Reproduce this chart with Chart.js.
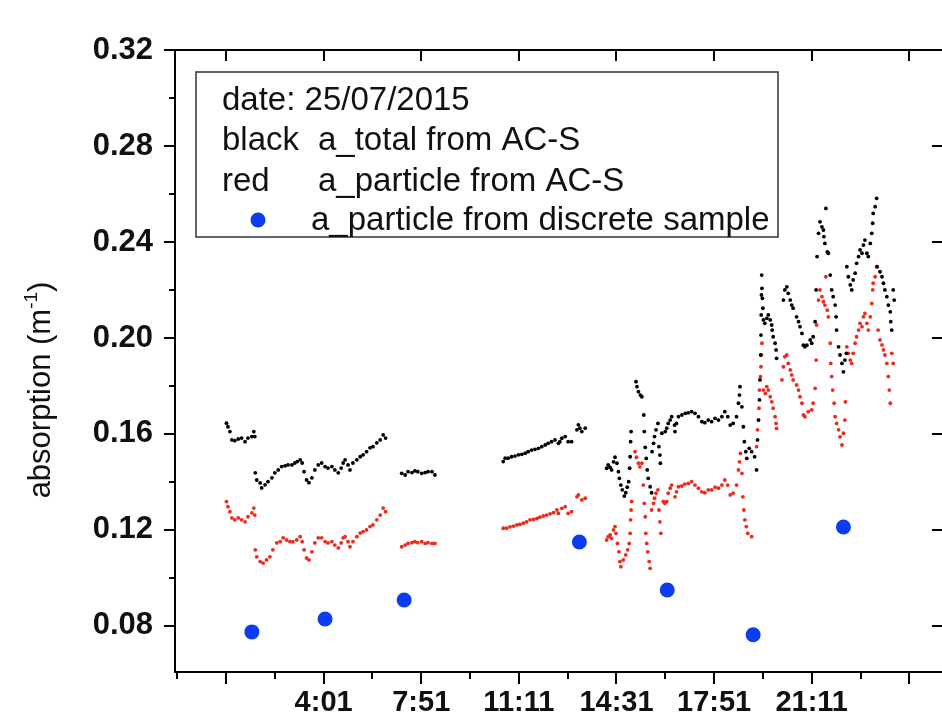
<!DOCTYPE html>
<html>
<head>
<meta charset="utf-8">
<script src="https://cdn.jsdelivr.net/npm/chart.js@4.4.0/dist/chart.umd.min.js"></script>
<style>
  html, body { margin: 0; padding: 0; background: #fff; overflow: hidden; }
  #wrap { width: 960px; height: 719px; }
</style>
</head>
<body>
<div id="wrap"><canvas id="chart"></canvas></div>
<script>
// time axis is in minutes, ticks every 200 min (labels as printed on the figure)
const xTickValues = [41, 241, 441, 641, 841, 1041, 1241, 1441];
const xTickLabels = ['', '4:01', '7:51', '11:11', '14:31', '17:51', '21:11', ''];
const xMinorValues = [-59, 141, 341, 541, 741, 941, 1141, 1341];
const yTickValues = [0.08, 0.12, 0.16, 0.20, 0.24, 0.28, 0.32];
const yMinorValues = [0.10, 0.14, 0.18, 0.22, 0.26, 0.30];

// black: a_total from AC-S
const blackTime = [
  42, 45, 49, 53, 59, 66, 73, 80, 86, 94, 98, 100,
  101, 104, 111, 114, 121, 127, 135, 141, 148, 155, 162, 168, 176, 182, 187, 193, 197, 201, 206, 211,
  217, 223, 230, 237, 244, 250, 258, 264, 271, 277, 281, 285, 291, 295, 301, 309, 316, 322, 329, 336,
  342, 350, 357, 363, 368,
  401, 408, 414, 422, 428, 434, 442, 449, 455, 463, 469,
  609, 613, 619, 626, 633, 640, 647, 654, 660, 667, 674, 681, 688, 695, 701, 708, 715, 722, 725, 729,
  736, 742, 749, 760, 763, 766, 770, 777,
  821, 824, 828, 831, 835, 838, 842, 845, 847, 850, 853, 857, 860, 863, 866, 868, 869, 870, 871,
  881, 883, 886, 890, 893, 897, 898, 900, 902, 904, 906, 910, 913, 914, 917, 919, 922, 926, 928, 930,
  931, 934, 941, 944, 947, 951, 954, 960, 961, 964, 968, 975, 982, 988, 995, 1002, 1009, 1016, 1022,
  1029, 1036, 1043, 1050, 1057, 1063, 1069, 1074, 1080, 1087, 1091, 1093, 1094, 1098, 1101, 1103,
  1106, 1108, 1113, 1118, 1124, 1128, 1130, 1132, 1134, 1135, 1136.5, 1137, 1137.5, 1138, 1138.5,
  1139, 1140, 1141, 1142, 1145, 1149, 1152, 1156, 1159, 1160, 1162, 1166, 1168, 1169,
  1183, 1186, 1190, 1193, 1197, 1200, 1203, 1210, 1214, 1217, 1221, 1224, 1227, 1231, 1238, 1241,
  1244, 1248, 1250, 1252, 1255, 1258, 1262, 1265, 1266, 1268, 1270, 1273, 1275, 1279, 1282, 1285,
  1289, 1291, 1292, 1296, 1299, 1303, 1306, 1309, 1312, 1313, 1316, 1320, 1323, 1326, 1330, 1333,
  1337, 1340, 1344, 1347, 1350, 1354, 1357, 1361, 1364, 1366, 1367, 1371, 1374, 1375, 1381, 1385,
  1388, 1391, 1395, 1398, 1402, 1403, 1405, 1408, 1410
];
const blackAbs = [
  0.1645, 0.1630, 0.1610, 0.1575, 0.1572, 0.1579, 0.1583, 0.1568, 0.1583, 0.1589, 0.1610, 0.1589,
  0.1438, 0.1408, 0.1396, 0.1375, 0.1388, 0.1401, 0.1417, 0.1438, 0.1450, 0.1464, 0.1467, 0.1471, 0.1471, 0.1479, 0.1485, 0.1492, 0.1479, 0.1443, 0.1408, 0.1397,
  0.1417, 0.1450, 0.1471, 0.1479, 0.1464, 0.1458, 0.1464, 0.1450, 0.1438, 0.1458, 0.1479, 0.1492, 0.1471, 0.1450, 0.1479, 0.1492, 0.1505, 0.1513, 0.1526, 0.1542,
  0.1547, 0.1563, 0.1575, 0.1596, 0.1583,
  0.1436, 0.1429, 0.1443, 0.1439, 0.1446, 0.1443, 0.1436, 0.1439, 0.1443, 0.1443, 0.1429,
  0.1485, 0.1499, 0.1499, 0.1505, 0.1508, 0.1513, 0.1515, 0.1520, 0.1526, 0.1533, 0.1536, 0.1540, 0.1547, 0.1554, 0.1561, 0.1568, 0.1575, 0.1561, 0.1568, 0.1582,
  0.1589, 0.1568, 0.1568, 0.1617, 0.1638, 0.1624, 0.1610, 0.1624,
  0.1457, 0.1471, 0.1461, 0.1450, 0.1484, 0.1503, 0.1478, 0.1443, 0.1415, 0.1387, 0.1367, 0.1341, 0.1355, 0.1378, 0.1401, 0.1457, 0.1505, 0.1568, 0.1610,
  0.1818, 0.1797, 0.1776, 0.1762, 0.1755, 0.1679, 0.1610, 0.1544, 0.1498, 0.1450, 0.1415, 0.1380, 0.1355, 0.1526, 0.1561, 0.1589, 0.1617, 0.1644, 0.1547, 0.1512,
  0.1478, 0.1603, 0.1610, 0.1624, 0.1644, 0.1658, 0.1672, 0.1637, 0.1610, 0.1644, 0.1672, 0.1679, 0.1686, 0.1688, 0.1693, 0.1686, 0.1672, 0.1651, 0.1647,
  0.1658, 0.1651, 0.1665, 0.1658, 0.1672, 0.1693, 0.1672, 0.1637, 0.1644, 0.1672, 0.1728, 0.1762, 0.1797, 0.1713, 0.1630, 0.1568,
  0.1526, 0.1498, 0.1540, 0.1526, 0.1505, 0.1450, 0.1575, 0.1658, 0.1742, 0.1825, 0.1929, 0.2012, 0.2096, 0.2179, 0.2262,
  0.2207, 0.2165, 0.2124, 0.2075, 0.2061, 0.2082, 0.2096, 0.2075, 0.2054, 0.2033, 0.2005, 0.1978, 0.1950, 0.1915,
  0.2158, 0.2200, 0.2213, 0.2186, 0.2158, 0.2137, 0.2124, 0.2088, 0.2068, 0.2047, 0.2019, 0.1970, 0.1963, 0.1970, 0.1992, 0.1978,
  0.2005, 0.2068, 0.2200, 0.2339, 0.2436, 0.2484, 0.2463, 0.2450, 0.2422, 0.2394, 0.2540, 0.2359, 0.2353, 0.2262, 0.2200, 0.2172,
  0.2137, 0.2088, 0.2033, 0.1963, 0.1929, 0.1894, 0.1859, 0.1908, 0.1936, 0.2297, 0.2255, 0.2221, 0.2200, 0.2242, 0.2270, 0.2311,
  0.2339, 0.2367, 0.2353, 0.2387, 0.2408, 0.2353, 0.2339, 0.2394, 0.2436, 0.2478, 0.2519, 0.2547, 0.2582, 0.2297, 0.2276, 0.2255,
  0.2228, 0.2200, 0.2172, 0.2137, 0.2109, 0.2068, 0.2033, 0.2200, 0.2158
];

// red: a_particle from AC-S
const redTime = [
  42, 45, 49, 53, 59, 66, 73, 80, 86, 94, 98, 100,
  101, 104, 111, 117, 124, 131, 137, 145, 152, 158, 165, 172, 178, 186, 193, 197, 201, 206, 211, 217,
  223, 230, 237, 244, 250, 258, 264, 271, 277, 281, 285, 291, 295, 301, 309, 316, 322, 329, 336, 342,
  350, 357, 363, 368,
  401, 408, 414, 422, 428, 434, 442, 449, 455, 463, 469,
  609, 616, 623, 630, 637, 643, 650, 657, 664, 671, 678, 684, 691, 698, 705, 712, 719, 722, 729, 736,
  742, 749, 760, 763, 770, 777,
  821, 824, 828, 831, 835, 838, 840, 843, 846, 848, 850, 855, 860, 864, 867, 869, 870, 871, 872,
  879, 882, 886, 889, 893, 896, 898, 900, 901, 903, 905, 908, 910, 913, 917, 919, 922, 926, 928, 930,
  932, 937, 940, 944, 947, 951, 954, 961, 964, 968, 975, 981, 988, 995, 1002, 1009, 1016, 1022, 1029,
  1036, 1043, 1050, 1057, 1063, 1069, 1074, 1080, 1087, 1091, 1093, 1095, 1098, 1100, 1102, 1104,
  1107, 1110, 1118, 1128, 1130, 1132, 1133, 1134, 1136, 1137, 1138, 1139, 1142, 1146, 1149, 1152,
  1156, 1159, 1162, 1166, 1168, 1169, 1180, 1183, 1186, 1190, 1193, 1197, 1200, 1203, 1210, 1214,
  1217, 1221, 1224, 1227, 1234, 1241, 1244, 1248, 1250, 1251, 1255, 1258, 1262, 1265, 1268, 1270,
  1273, 1275, 1279, 1280, 1282, 1284, 1287, 1289, 1292, 1296, 1299, 1303, 1306, 1309, 1310, 1313,
  1316, 1320, 1323, 1326, 1330, 1333, 1337, 1340, 1344, 1347, 1350, 1354, 1357, 1361, 1364, 1366,
  1367, 1371, 1374, 1377, 1381, 1385, 1388, 1391, 1395, 1398, 1400, 1402, 1405, 1408
];
const redAbs = [
  0.1318, 0.1297, 0.1276, 0.1250, 0.1242, 0.1250, 0.1242, 0.1234, 0.1255, 0.1271, 0.1291, 0.1262,
  0.1117, 0.1088, 0.1068, 0.1062, 0.1075, 0.1088, 0.1117, 0.1146, 0.1151, 0.1167, 0.1158, 0.1151, 0.1151, 0.1158, 0.1172, 0.1151, 0.1117, 0.1083, 0.1075, 0.1109,
  0.1146, 0.1167, 0.1167, 0.1151, 0.1146, 0.1151, 0.1137, 0.1125, 0.1146, 0.1167, 0.1172, 0.1151, 0.1130, 0.1151, 0.1172, 0.1187, 0.1193, 0.1200, 0.1214, 0.1221,
  0.1242, 0.1262, 0.1291, 0.1276,
  0.1130, 0.1137, 0.1144, 0.1147, 0.1151, 0.1147, 0.1151, 0.1144, 0.1147, 0.1144, 0.1144,
  0.1207, 0.1207, 0.1213, 0.1216, 0.1221, 0.1223, 0.1228, 0.1234, 0.1242, 0.1244, 0.1248, 0.1253, 0.1258, 0.1262, 0.1267, 0.1272, 0.1283, 0.1269, 0.1290, 0.1297,
  0.1269, 0.1276, 0.1338, 0.1346, 0.1325, 0.1332,
  0.1158, 0.1172, 0.1179, 0.1165, 0.1200, 0.1214, 0.1186, 0.1144, 0.1109, 0.1068, 0.1047, 0.1075, 0.1096, 0.1117, 0.1144, 0.1186, 0.1242, 0.1283, 0.1318,
  0.1526, 0.1503, 0.1478, 0.1463, 0.1478, 0.1387, 0.1311, 0.1255, 0.1186, 0.1144, 0.1109, 0.1068, 0.1040, 0.1283, 0.1311, 0.1332, 0.1353, 0.1367, 0.1283, 0.1234,
  0.1186, 0.1318, 0.1311, 0.1318, 0.1353, 0.1374, 0.1387, 0.1338, 0.1359, 0.1380, 0.1383, 0.1391, 0.1394, 0.1401, 0.1387, 0.1374, 0.1359, 0.1355, 0.1367,
  0.1367, 0.1378, 0.1374, 0.1387, 0.1408, 0.1387, 0.1346, 0.1353, 0.1387, 0.1450, 0.1484, 0.1519, 0.1436, 0.1338, 0.1283, 0.1242,
  0.1214, 0.1186, 0.1172, 0.1547, 0.1617, 0.1658, 0.1707, 0.1783, 0.1839, 0.1880, 0.1929, 0.1978, 0.1783, 0.1769, 0.1797, 0.1783,
  0.1755, 0.1734, 0.1707, 0.1672, 0.1644, 0.1623, 0.1825, 0.1880, 0.1922, 0.1929, 0.1894, 0.1867, 0.1846, 0.1825, 0.1804, 0.1783,
  0.1755, 0.1728, 0.1679, 0.1672, 0.1693, 0.1700, 0.1728, 0.1790, 0.1908, 0.2054, 0.2158, 0.2200, 0.2172, 0.2151, 0.2137, 0.2255,
  0.2116, 0.2088, 0.1978, 0.1894, 0.1839, 0.1783, 0.1728, 0.1672, 0.1644, 0.1617, 0.1588, 0.1554, 0.1603, 0.1658, 0.1734, 0.1963,
  0.1936, 0.1908, 0.1894, 0.1936, 0.1978, 0.2005, 0.2033, 0.2061, 0.2047, 0.2088, 0.2102, 0.2061, 0.2033, 0.2088, 0.2144, 0.2200,
  0.2228, 0.2255, 0.2297, 0.2033, 0.1992, 0.1971, 0.1950, 0.1929, 0.1894, 0.1839, 0.1783, 0.1728, 0.1936, 0.1894
];

// blue: a_particle from discrete sample
const sampleTime = [94, 244, 406, 765, 945, 1121, 1306];
const sampleAbs = [0.0775, 0.0829, 0.0908, 0.1150, 0.0950, 0.0763, 0.1212];

const FONT = '"Liberation Sans", Arial, sans-serif';
const RED = '#ee2a1c';
const BLUE = '#0b3cf0';

function pairs(xs, ys) {
    return xs.map((x, i) => ({ x: x, y: ys[i] }));
}

// frame, inward/outward ticks, text box and axis title
const decorPlugin = {
    id: 'decor',
    afterDraw(chart) {
        const ctx = chart.ctx;
        const a = chart.chartArea;
        const xs = chart.scales.x, ys = chart.scales.y;
        ctx.save();
        ctx.strokeStyle = '#000';
        ctx.lineWidth = 2;
        ctx.strokeRect(a.left, a.top, a.right - a.left, a.bottom - a.top);

        ctx.beginPath();
        xTickValues.forEach(v => {
            const px = Math.round(xs.getPixelForValue(v));
            ctx.moveTo(px, a.bottom); ctx.lineTo(px, a.bottom + 12);
            ctx.moveTo(px, a.top); ctx.lineTo(px, a.top + 11);
        });
        xMinorValues.forEach(v => {
            const px = Math.round(xs.getPixelForValue(v));
            ctx.moveTo(px, a.bottom); ctx.lineTo(px, a.bottom + 7);
        });
        yTickValues.forEach(v => {
            const py = Math.round(ys.getPixelForValue(v));
            ctx.moveTo(a.left, py); ctx.lineTo(a.left - 11, py);
            ctx.moveTo(a.right, py); ctx.lineTo(a.right - 11, py);
        });
        yMinorValues.forEach(v => {
            const py = Math.round(ys.getPixelForValue(v));
            ctx.moveTo(a.left, py); ctx.lineTo(a.left - 6, py);
        });
        ctx.stroke();

        // text box
        ctx.lineWidth = 1.5;
        ctx.strokeStyle = '#333';
        ctx.strokeRect(196, 72, 582, 165);
        ctx.fillStyle = '#111';
        ctx.font = '33px ' + FONT;
        ctx.textBaseline = 'middle';
        ctx.textAlign = 'left';
        ctx.fillText('date: 25/07/2015', 222, 101);
        ctx.fillText('black', 222, 141);
        ctx.fillText('a_total from AC-S', 318, 141);
        ctx.fillText('red', 222, 182);
        ctx.fillText('a_particle from AC-S', 318, 182);
        ctx.fillText('a_particle from discrete sample', 311, 221);
        ctx.fillStyle = BLUE;
        ctx.beginPath();
        ctx.arc(258, 220, 7.5, 0, Math.PI * 2);
        ctx.fill();

        // y axis title with superscript
        ctx.fillStyle = '#111';
        ctx.translate(50, 390);
        ctx.rotate(-Math.PI / 2);
        ctx.textBaseline = 'alphabetic';
        ctx.font = '31px ' + FONT;
        const t1 = 'absorption (m', t3 = ')';
        const w1 = ctx.measureText(t1).width, w3 = ctx.measureText(t3).width;
        ctx.font = '19px ' + FONT;
        const t2 = '-1';
        const w2 = ctx.measureText(t2).width;
        let x0 = -(w1 + w2 + w3) / 2;
        ctx.font = '31px ' + FONT;
        ctx.fillText(t1, x0, 0);
        ctx.font = '19px ' + FONT;
        ctx.fillText(t2, x0 + w1, -13);
        ctx.font = '31px ' + FONT;
        ctx.fillText(t3, x0 + w1 + w2, 0);
        ctx.restore();
    }
};

new Chart(document.getElementById('chart'), {
    type: 'scatter',
    data: {
        datasets: [
            { label: 'a_particle from discrete sample', data: pairs(sampleTime, sampleAbs),
              backgroundColor: BLUE, borderWidth: 0, pointRadius: 7.5, order: 0 },
            { label: 'a_total from AC-S', data: pairs(blackTime, blackAbs),
              backgroundColor: '#000', borderWidth: 0, pointRadius: 1.9, order: 1 },
            { label: 'a_particle from AC-S', data: pairs(redTime, redAbs),
              backgroundColor: RED, borderWidth: 0, pointRadius: 1.9, order: 2 }
        ]
    },
    options: {
        responsive: true,
        maintainAspectRatio: false,
        animation: false,
        layout: { padding: { left: 0, top: 50, right: 17, bottom: 0 } },
        plugins: { legend: { display: false }, tooltip: { enabled: false } },
        scales: {
            x: {
                type: 'linear',
                min: -63.5,
                max: 1510,
                grid: { display: false, drawTicks: false },
                border: { display: false },
                afterBuildTicks: s => { s.ticks = xTickValues.map(v => ({ value: v })); },
                afterFit: s => { s.height = 47; },
                ticks: {
                    autoSkip: false, maxRotation: 0, padding: 14, color: '#111',
                    font: { family: FONT, size: 29, weight: 'bold' },
                    callback: (v, i) => xTickLabels[i]
                }
            },
            y: {
                min: 0.0608,
                max: 0.32,
                grid: { display: false, drawTicks: false },
                border: { display: false },
                afterBuildTicks: s => { s.ticks = yTickValues.map(v => ({ value: v })); },
                afterFit: s => { s.width = 175; },
                ticks: {
                    padding: 22, color: '#111',
                    font: { family: FONT, size: 31, weight: 'bold' },
                    callback: v => v.toFixed(2)
                }
            }
        }
    },
    plugins: [decorPlugin]
});
</script>
</body>
</html>
